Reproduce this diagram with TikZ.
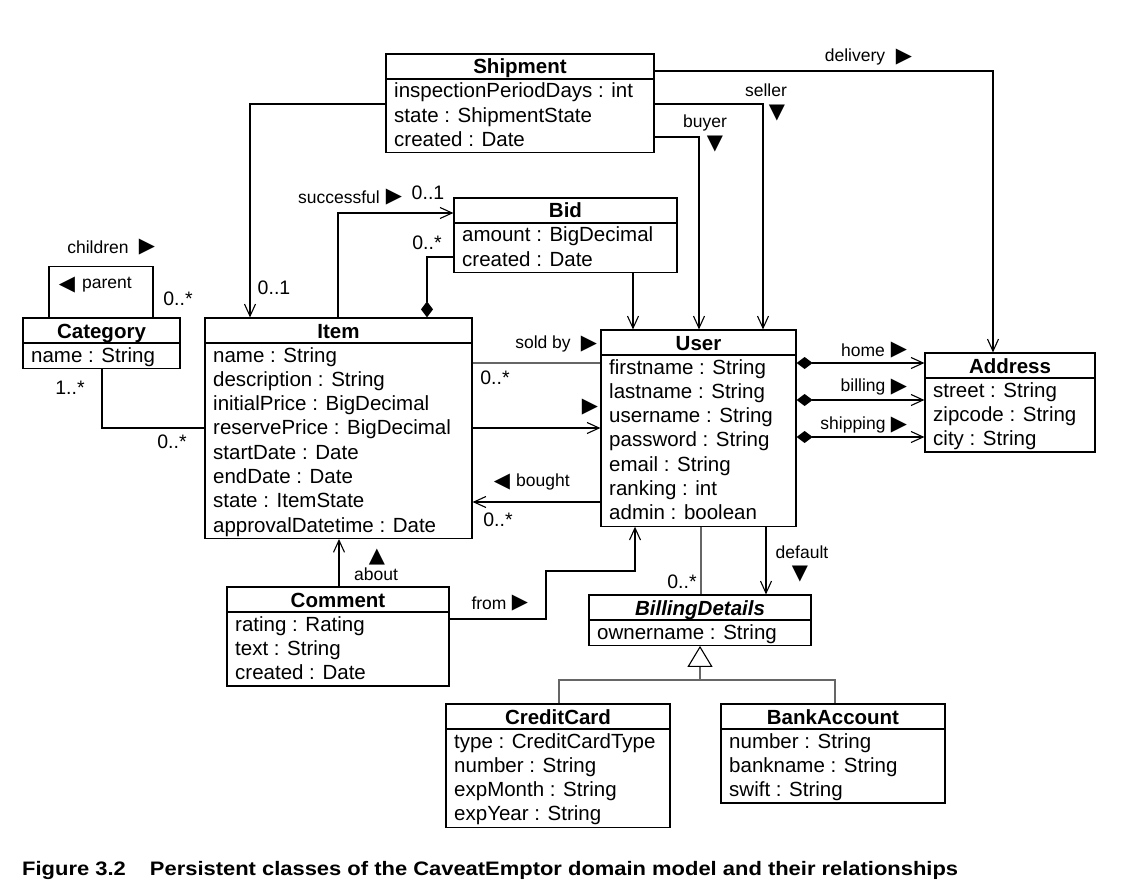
\documentclass[tikz,border=0pt]{standalone}
\usepackage{graphicx}
\usepackage{fontspec}
\setmainfont{Liberation Sans}
\newfontfamily\symf{DejaVu Sans}
\usetikzlibrary{arrows.meta,fit}
\tikzset{
  box/.style={draw, line width=1.2pt, inner sep=0pt},
  ttl/.style={font=\fontsize{20.5}{24}\selectfont\bfseries, inner sep=0pt},
  attr/.style={font=\fontsize{20.5}{24}\selectfont, inner sep=0pt},
  mult/.style={font=\fontsize{19.5}{22}\selectfont, inner sep=0pt},
  role/.style={font=\fontsize{17.5}{20}\selectfont, inner sep=0pt},
  tri/.style={font=\symf\fontsize{21}{22}\selectfont, inner sep=0pt},
  con/.style={line width=1.1pt},
  greyline/.style={con, draw=black!60},
  arr/.style={con, -{Straight Barb[length=12pt,width=11pt]}},
  compo/.style={con, {Diamond[length=16pt,width=12pt]}-},
  comparr/.style={con, {Diamond[length=16pt,width=12pt]}-{Straight Barb[length=12pt,width=11pt]}},
  genarr/.style={con, draw=black!60, -{Triangle[open,length=21pt,width=25pt,color=black,fill=white]}}
}
\newcommand\umlclass[7]{%
  \pgfmathsetmacro\ybot{#4+25+24.3*#5+1}%
  \node[box, fit={(#2,#4) (#3,\ybot)}] (#1) {};
  \draw[line width=1.2pt] (#2,#4+25) -- (#3,#4+25);
  \node[ttl, anchor=base] (#1-title) at ({(#2+#3)/2},{#4+20}) {#6};
  \foreach \a [count=\i] in {#7} {
    \node[attr, anchor=base west] (#1-a\i) at ({#2+8},{#4+25+19+24.3*(\i-1)}) {\a};
  }%
}
\begin{document}
\begin{tikzpicture}[x=1pt,y=-1pt]
\fill[white] (0,0) rectangle (1134,893);
\useasboundingbox (0,0) rectangle (1134,893);

% classes
\umlclass{Shipment}{386}{654}{54}{3}{Shipment}{inspectionPeriodDays : int,state : ShipmentState,created : Date}
\umlclass{Bid}{454}{677}{198}{2}{Bid}{amount : BigDecimal,created : Date}
\umlclass{Category}{23}{180}{318}{1}{Category}{name : String}
\umlclass{Item}{205}{472}{318}{8}{Item}{name : String,description : String,initialPrice : BigDecimal,reservePrice : BigDecimal,startDate : Date,endDate : Date,state : ItemState,approvalDatetime : Date}
\umlclass{User}{601}{796}{330}{7}{User}{firstname : String,lastname : String,username : String,password : String,email : String,ranking : int,admin : boolean}
\umlclass{Address}{925}{1095}{353}{3}{Address}{street : String,zipcode : String,city : String}
\umlclass{Comment}{227}{449}{587}{3}{Comment}{rating : Rating,text : String,created : Date}
\umlclass{BillingDetails}{589}{811}{595}{1}{\textit{BillingDetails}}{ownername : String}
\umlclass{CreditCard}{446}{670}{704}{4}{CreditCard}{type : CreditCardType,number : String,expMonth : String,expYear : String}
\umlclass{BankAccount}{721}{945}{704}{3}{BankAccount}{number : String,bankname : String,swift : String}

% connectors
\draw[arr] (Shipment.west |- 0,104) -| (Item.north -| 250,0);
\draw[arr] (Shipment.east |- 0,71) -| (Address.north -| 993,0);
\draw[arr] (Shipment.east |- 0,104) -| (User.north -| 763,0);
\draw[arr] (Shipment.east |- 0,137) -| (User.north -| 699,0);
\draw[arr] (Bid.south -| 633,0) -- (User.north -| 633,0);
\draw[arr] (Item.north -| 338,0) |- (Bid.west |- 0,213);
\draw[compo] (Item.north -| 427,0) |- (Bid.west |- 0,257);
\draw[con] (Category.north -| 49,0) -- ++(0,-51) -| (Category.north -| 153,0);
\draw[con] (Category.south -| 102,0) |- (Item.west |- 0,428);
\draw[greyline] (Item.east |- 0,363) -- (User.west |- 0,363);
\draw[arr] (Item.east |- 0,428) -- (User.west |- 0,428);
\draw[arr] (User.west |- 0,502) -- (Item.east |- 0,502);
\draw[arr] (Comment.north -| 339,0) -- (Item.south -| 339,0);
\draw[arr] (Comment.east |- 0,619) -| (546,571) -| (User.south -| 635,0);
\draw[greyline] (User.south -| 701,0) -- (BillingDetails.north -| 701,0);
\draw[arr] (User.south -| 766,0) -- (BillingDetails.north -| 766,0);
\draw[comparr] (User.east |- 0,363) -- (Address.west |- 0,363);
\draw[comparr] (User.east |- 0,400) -- (Address.west |- 0,400);
\draw[comparr] (User.east |- 0,437) -- (Address.west |- 0,437);
\coordinate (gj) at (700,680);
\draw[greyline] (CreditCard.north -| 559,0) |- (gj) -| (BankAccount.north -| 835,0);
\draw[genarr] (gj) -- (BillingDetails.south -| 700,0);

% role labels
\node[role] (l-delivery) at (855,57) {delivery};
\node[tri] (t-delivery) at (904,57) {▶};
\node[role] (l-seller) at (766,90) {seller};
\node[tri] (t-seller) at (777,113) {▼};
\node[role] (l-buyer) at (705,123) {buyer};
\node[tri] (t-buyer) at (715,144) {▼};
\node[role] (l-successful) at (339,197) {successful};
\node[tri] (t-successful) at (394,197) {▶};
\node[role] (l-children) at (98,247) {children};
\node[tri] (t-children) at (147,247) {▶};
\node[tri] (t-parent) at (67,285) {◀};
\node[role] (l-parent) at (107,285) {parent};
\node[role] (l-soldby) at (543,344) {sold by};
\node[tri] (t-soldby) at (589,344) {▶};
\node[tri] (t-sells) at (590,407) {▶};
\node[tri] (t-bought) at (502,482) {◀};
\node[role] (l-bought) at (543,482) {bought};
\node[role] (l-home) at (863,350) {home};
\node[tri] (t-home) at (899,350) {▶};
\node[role] (l-billing) at (863,387) {billing};
\node[tri] (t-billing) at (899,387) {▶};
\node[role] (l-shipping) at (853,425) {shipping};
\node[tri] (t-shipping) at (899,425) {▶};
\node[tri] (t-about) at (377,557) {▲};
\node[role] (l-about) at (376,574) {about};
\node[role] (l-from) at (489,603) {from};
\node[tri] (t-from) at (520,603) {▶};
\node[role] (l-default) at (802,552) {default};
\node[tri] (t-default) at (800,574) {▼};

% multiplicities
\node[mult] (m1) at (428,193) {0..1};
\node[mult] (m2) at (427,243) {0..*};
\node[mult] (m3) at (274,288) {0..1};
\node[mult] (m4) at (178,299) {0..*};
\node[mult] (m5) at (70,388) {1..*};
\node[mult] (m6) at (172,442) {0..*};
\node[mult] (m7) at (495,378) {0..*};
\node[mult] (m8) at (498,520) {0..*};
\node[mult] (m9) at (682,582) {0..*};

% caption
\node[anchor=base west, inner sep=0pt, font=\fontsize{19.5}{22}\selectfont\bfseries] (caption) at (22,875)
  {\resizebox{936pt}{\height}{Figure 3.2\hspace{1.1em}Persistent classes of the CaveatEmptor domain model and their relationships}};
\end{tikzpicture}
\end{document}
